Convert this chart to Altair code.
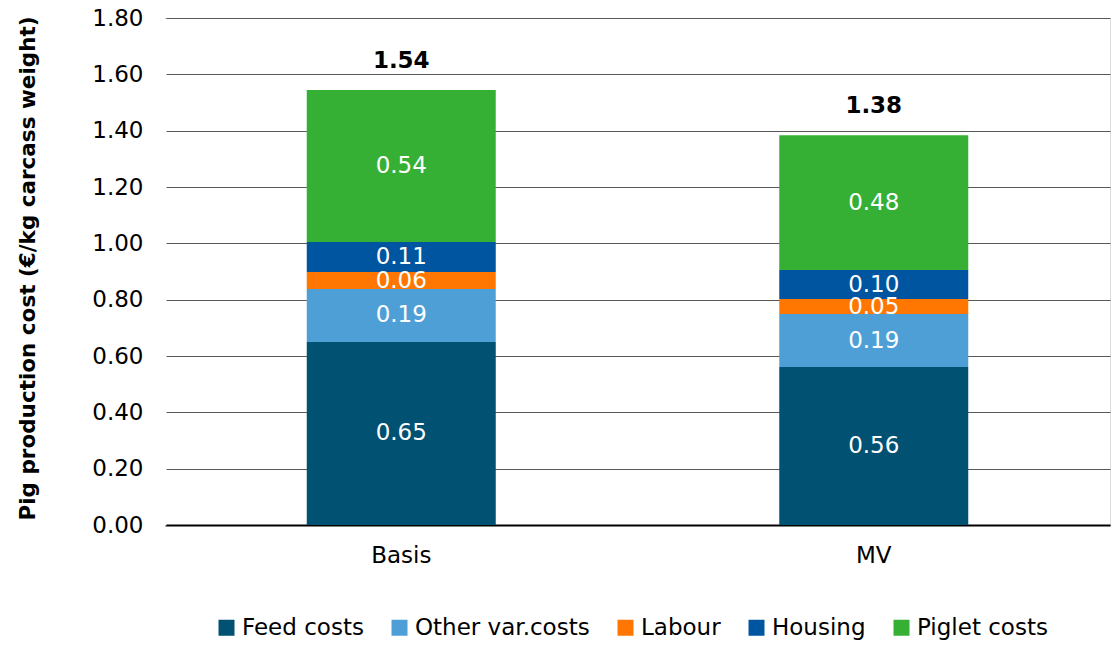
import altair as alt
import pandas as pd

categories = ["Basis", "MV"]
components = ["Feed costs", "Other var.costs", "Labour", "Housing", "Piglet costs"]
colors = ["#005172", "#4F9FD7", "#FF7700", "#0055A0", "#35B035"]
basis_values = [0.65, 0.188, 0.06, 0.107, 0.539]
mv_values = [0.561, 0.188, 0.053, 0.103, 0.479]
y_ticks = [0, 0.2, 0.4, 0.6, 0.8, 1.0, 1.2, 1.4, 1.6, 1.8]

rows = []
for cat, vals in zip(categories, [basis_values, mv_values]):
    for i, (comp, v) in enumerate(zip(components, vals)):
        rows.append({"category": cat, "component": comp, "order": i, "value": v})
df = pd.DataFrame(rows)

FONT = "DejaVu Sans"
FS = 23
Y_TITLE = "Pig production cost (€/kg carcass weight)"

x_axis = alt.Axis(labelAngle=0, labelFontSize=FS, labelColor="black", labelFont=FONT,
                  ticks=False, grid=False, domainColor="black", domainWidth=2,
                  labelPadding=19, title=None)
x_scale = alt.Scale(paddingInner=0.6, paddingOuter=0.3)
y_scale = alt.Scale(domain=[0, 1.8], nice=False)
y_axis = alt.Axis(
    values=y_ticks,
    format=".2f",
    title=Y_TITLE,
    titleFontSize=21.5,
    titleFontWeight="bold",
    titleFont=FONT,
    titleColor="black",
    titleAngle=-90,
    titleX=-137,
    titleY=250,
    titleAlign="center",
    titleBaseline="middle",
    labelFontSize=FS,
    labelFont=FONT,
    labelColor="black",
    labelPadding=22,
    ticks=False,
    domain=True,
    domainColor="white",
    domainWidth=2,
    grid=True,
    gridColor="#595959",
    gridWidth=1,
)

bars = alt.Chart(df).mark_bar().encode(
    x=alt.X("category:N", sort=categories, scale=x_scale, axis=x_axis, title=None),
    y=alt.Y("value:Q", stack="zero", scale=y_scale, axis=y_axis, title=Y_TITLE),
    color=alt.Color(
        "component:N",
        sort=components,
        scale=alt.Scale(domain=components, range=colors),
        legend=alt.Legend(
            orient="none",
            legendX=50,
            legendY=598,
            direction="horizontal",
            title=None,
            labelFontSize=FS,
            labelFont=FONT,
            labelColor="black",
            symbolType="square",
            symbolSize=256,
            symbolStrokeWidth=0,
            columnPadding=24,
            labelOffset=4,
            labelLimit=300,
        ),
    ),
    order=alt.Order("order:Q", sort="ascending"),
)

seg_labels = alt.Chart(df).transform_stack(
    stack="value", groupby=["category"], as_=["y0", "y1"],
    sort=[alt.SortField("order", order="ascending")],
).transform_calculate(
    mid="(datum.y0 + datum.y1) / 2"
).mark_text(color="white", fontSize=FS, font=FONT, baseline="middle").encode(
    x=alt.X("category:N", sort=categories, scale=x_scale, axis=x_axis, title=None),
    y=alt.Y("mid:Q", scale=y_scale, axis=y_axis, title=Y_TITLE),
    text=alt.Text("value:Q", format=".2f"),
)

totals = alt.Chart(df).transform_aggregate(
    total="sum(value)", groupby=["category"]
).mark_text(color="black", fontSize=FS, fontWeight="bold", font=FONT,
            baseline="middle", dy=-29).encode(
    x=alt.X("category:N", sort=categories, scale=x_scale, axis=x_axis, title=None),
    y=alt.Y("total:Q", scale=y_scale, axis=y_axis, title=Y_TITLE),
    text=alt.Text("total:Q", format=".2f"),
)

chart = alt.layer(bars, seg_labels, totals).properties(
    width=945,
    height=507,
    padding={"left": 165, "top": 18, "right": 4, "bottom": 120},
    autosize=alt.AutoSizeParams(type="none"),
).configure_view(
    strokeWidth=0, stroke="transparent"
).configure(background="white")

chart.save("out.html", embed_options={"renderer": "svg", "actions": False})
